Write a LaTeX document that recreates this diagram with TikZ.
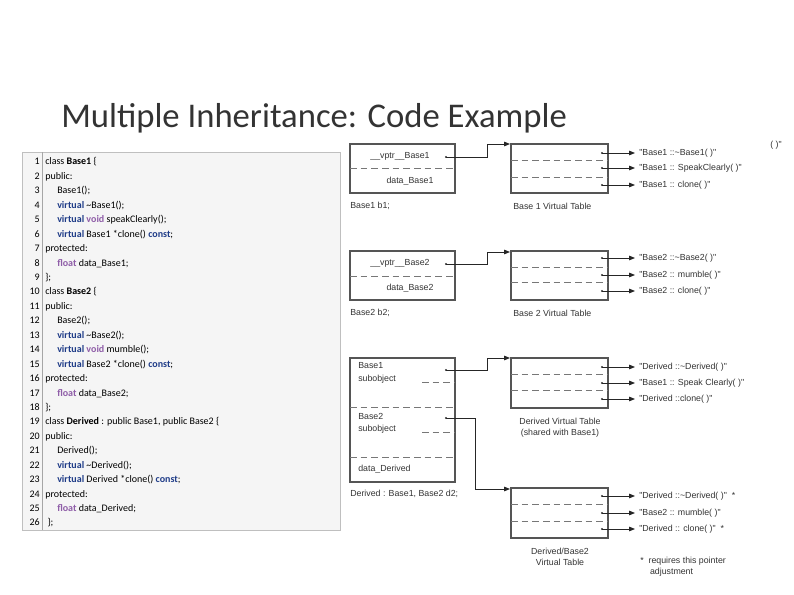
\documentclass[tikz,border=0pt]{standalone}
\usepackage{fontspec}
\setmainfont{Carlito}
\newfontfamily\diagfont{Liberation Sans}
\usetikzlibrary{arrows.meta}
\definecolor{kwblue}{HTML}{1F3C88}
\definecolor{kwpurple}{HTML}{8F5EA8}
\definecolor{lin}{HTML}{555555}
\newcommand{\kwv}[1]{\textcolor{kwblue}{\textbf{#1}}}
\newcommand{\kwt}[1]{\textcolor{kwpurple}{\textbf{#1}}}
\newcommand{\cl}[2]{\node[num] (n#1) at (40,{165+(#1-1)*14.44}) {#1};\node[code] (c#1) at (45,{165+(#1-1)*14.44}) {#2};}
\newcommand{\ind}{\hspace*{9pt}}
\newcommand{\ent}[3]{\node[dotn] (d#1) at (602,#2) {};\coordinate (e#1) at (635,#2);\node[lbl,anchor=west] (t#1) at (637,#2) {#3};\draw[arr] (d#1.center) -- (e#1);}
\begin{document}
\begin{tikzpicture}[x=0.75pt,y=-0.75pt,
  code/.style={anchor=base west,inner sep=0,font=\fontsize{7.5}{9}\selectfont},
  num/.style={anchor=base east,inner sep=0,font=\fontsize{7.5}{9}\selectfont},
  lbl/.style={inner sep=1.5pt,font=\diagfont\fontsize{6.6}{8}\selectfont,text=black!80},
  obox/.style={draw=lin,line width=0.9pt},
  dsh/.style={draw=lin!80,dash pattern=on 5pt off 3pt,line width=0.7pt},
  dotn/.style={circle,fill=black!80,inner sep=0,minimum size=1.8pt},
  arr/.style={draw=black!85,line width=0.6pt,-{Triangle[length=4.5pt,width=3.5pt]}}]
\useasboundingbox (0,0) rectangle (794,595);
\node[anchor=base west,inner sep=0,font=\fontsize{26}{30}\selectfont,text=black!80] (title) at (61,128) {Multiple Inheritance: Code Example};
\path[fill=black!4,draw=black!25] (22,152) rectangle (340,530);
\draw[black!35] (42,152) -- (42,530);
\cl{1}{class \textbf{Base1} \{}
\cl{2}{public:}
\cl{3}{\ind Base1();}
\cl{4}{\ind\kwv{virtual} \textasciitilde Base1();}
\cl{5}{\ind\kwv{virtual} \kwt{void} speakClearly();}
\cl{6}{\ind\kwv{virtual} Base1 *clone() \kwv{const};}
\cl{7}{protected:}
\cl{8}{\ind\kwt{float} data\_Base1;}
\cl{9}{\};}
\cl{10}{class \textbf{Base2} \{}
\cl{11}{public:}
\cl{12}{\ind Base2();}
\cl{13}{\ind\kwv{virtual} \textasciitilde Base2();}
\cl{14}{\ind\kwv{virtual} \kwt{void} mumble();}
\cl{15}{\ind\kwv{virtual} Base2 *clone() \kwv{const};}
\cl{16}{protected:}
\cl{17}{\ind\kwt{float} data\_Base2;}
\cl{18}{\};}
\cl{19}{class \textbf{Derived} : public Base1, public Base2 \{}
\cl{20}{public:}
\cl{21}{\ind Derived();}
\cl{22}{\ind\kwv{virtual} \textasciitilde Derived();}
\cl{23}{\ind\kwv{virtual} Derived *clone() \kwv{const};}
\cl{24}{protected:}
\cl{25}{\ind\kwt{float} data\_Derived;}
\cl{26}{\ \};}
% ===== Base1 object
\draw[obox] (350,144) rectangle (455,193);
\draw[dsh] (350,168) -- (455,168);
\node[lbl] (b1v) at (400,156) {\_\_vptr\_\_Base1};
\node[lbl] (b1d) at (410,181) {data\_Base1};
\node[dotn] (p1) at (446,157) {};
\node[lbl,anchor=west] (b1l) at (348,206) {Base1 b1;};
\draw[obox] (511,144) rectangle (608,193);
\coordinate (vt1) at (510,144);
\draw[dsh] (511,160) -- (608,160);
\draw[dsh] (511,177) -- (608,177);
\node[lbl,anchor=west] (vt1l) at (511,206) {Base 1 Virtual Table};
\draw[arr] (p1.center) -- (487,157) |- (vt1);
\ent{1a}{153}{"Base1 ::\textasciitilde Base1( )"}
\ent{1b}{168}{"Base1 :: SpeakClearly( )"}
\ent{1c}{185}{"Base1 :: clone( )"}
\node[lbl] (stray) at (776,145) {( )"};
% ===== Base2 object
\draw[obox] (350,251) rectangle (455,300);
\draw[dsh] (350,276) -- (455,276);
\node[lbl] (b2v) at (400,263) {\_\_vptr\_\_Base2};
\node[lbl] (b2d) at (410,288) {data\_Base2};
\node[dotn] (p2) at (446,264) {};
\node[lbl,anchor=west] (b2l) at (348,313) {Base2 b2;};
\draw[obox] (511,251) rectangle (608,300);
\coordinate (vt2) at (510,252);
\draw[dsh] (511,267) -- (608,267);
\draw[dsh] (511,282) -- (608,282);
\node[lbl,anchor=west] (vt2l) at (511,313) {Base 2 Virtual Table};
\draw[arr] (p2.center) -- (487,264) |- (vt2);
\ent{2a}{258}{"Base2 ::\textasciitilde Base2( )"}
\ent{2b}{275}{"Base2 :: mumble( )"}
\ent{2c}{291}{"Base2 :: clone( )"}
% ===== Derived object
\draw[obox] (350,358) rectangle (455,482);
\draw[dsh] (350,407) -- (455,407);
\draw[dsh] (350,457) -- (455,457);
\draw[dsh] (422,382) -- (455,382);
\draw[dsh] (422,432) -- (455,432);
\node[lbl,anchor=west] (s1a) at (356,366) {Base1};
\node[lbl,anchor=west] (s1b) at (356,379) {subobject};
\node[lbl,anchor=west] (s2a) at (356,416) {Base2};
\node[lbl,anchor=west] (s2b) at (356,429) {subobject};
\node[lbl,anchor=west] (sdd) at (356,469) {data\_Derived};
\node[dotn] (p3) at (446,370) {};
\node[dotn] (p4) at (446,418) {};
\node[lbl,anchor=west] (dl) at (348,494) {Derived : Base1, Base2 d2;};
\draw[obox] (511,358) rectangle (608,408);
\coordinate (vt3) at (510,358);
\draw[dsh] (511,374) -- (608,374);
\draw[dsh] (511,390) -- (608,390);
\node[lbl,align=center] (vt3l) at (560,428) {Derived Virtual Table\\(shared with Base1)};
\draw[arr] (p3.center) -- (487,370) |- (vt3);
\ent{3a}{367}{"Derived ::\textasciitilde Derived( )"}
\ent{3b}{383}{"Base1 :: Speak Clearly( )"}
\ent{3c}{399}{"Derived ::clone( )"}
\draw[obox] (511,488) rectangle (608,538);
\coordinate (vt4) at (510,489);
\draw[dsh] (511,504) -- (608,504);
\draw[dsh] (511,521) -- (608,521);
\node[lbl,align=center] (vt4l) at (560,557) {Derived/Base2\\Virtual Table};
\draw[arr] (p4.center) -- (475,418) |- (vt4);
\ent{4a}{496}{"Derived ::\textasciitilde Derived( )" \ *}
\ent{4b}{513}{"Base2 :: mumble( )"}
\ent{4c}{529}{"Derived :: clone( )" \ *}
\node[lbl,anchor=north west,align=left] (note) at (638,555) {*\ \ requires this pointer\\\ \ \ \ adjustment};
\end{tikzpicture}
\end{document}
